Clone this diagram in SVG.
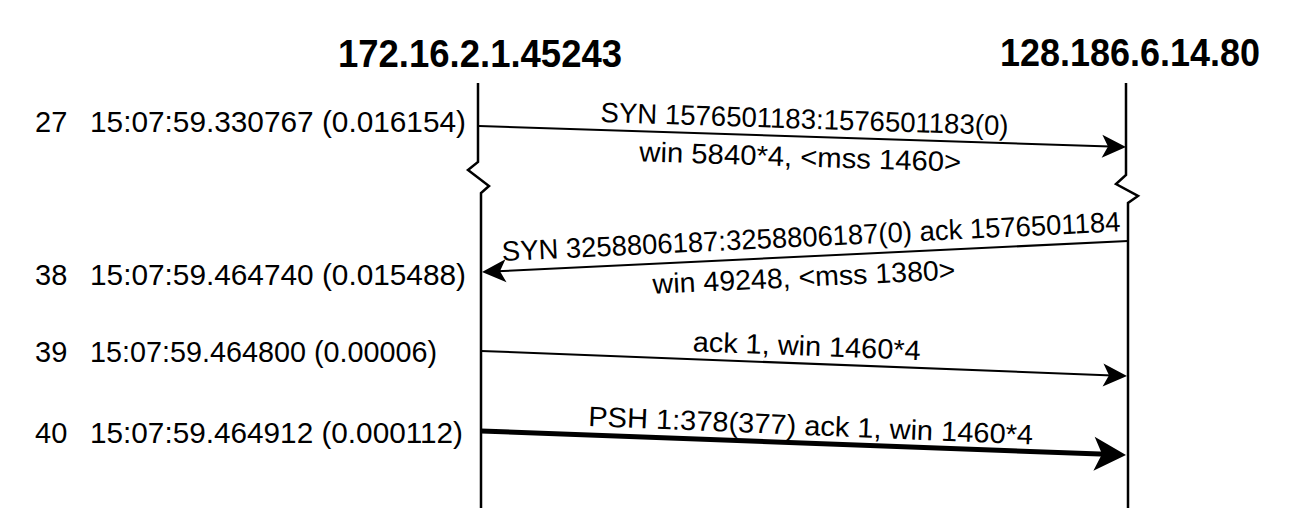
<svg xmlns="http://www.w3.org/2000/svg" width="1296" height="532" viewBox="0 0 1296 532">
<style>
text{font-family:"Liberation Sans","DejaVu Sans",sans-serif;fill:#000}
.hdr{font-weight:bold;font-size:39px}
.row{font-size:29px}
.lbl{font-size:28px;text-anchor:middle}
.life{fill:none;stroke:#000;stroke-width:2.5;stroke-linejoin:miter}
.msg{fill:none;stroke:#000;stroke-width:2}
.msg.thick{stroke-width:5}
</style>
<defs>
<marker id="ah" markerUnits="userSpaceOnUse" viewBox="-20 -14 30 28" markerWidth="30" markerHeight="28" refX="0" refY="0" orient="auto">
<path d="M8,0 L-16,-11.5 L-10,0 L-16,11.5 Z" fill="#000"/>
</marker>
<marker id="ahb" markerUnits="userSpaceOnUse" viewBox="-24 -20 40 40" markerWidth="40" markerHeight="40" refX="0" refY="0" orient="auto">
<path d="M12,0 L-20,-17 L-12,0 L-20,17 Z" fill="#000"/>
</marker>
</defs>
<rect width="1296" height="532" fill="#fff"/>
<g id="host-left">
<text class="hdr" x="338" y="67" textLength="284" lengthAdjust="spacingAndGlyphs">172.16.2.1.45243</text>
<path class="life" d="M478,83 V162 L468,170 L489,186 L481,193 V508"/>
</g>
<g id="host-right">
<text class="hdr" x="1000" y="66" textLength="260" lengthAdjust="spacingAndGlyphs">128.186.6.14.80</text>
<path class="life" d="M1126,83 V175 L1116,184 L1138,196 L1128,203 V508"/>
</g>
<g id="rows">
<text class="row" x="35" y="132">27</text>
<text class="row" x="90" y="132" textLength="376" lengthAdjust="spacingAndGlyphs">15:07:59.330767 (0.016154)</text>
<text class="row" x="35" y="285">38</text>
<text class="row" x="90" y="285" textLength="376" lengthAdjust="spacingAndGlyphs">15:07:59.464740 (0.015488)</text>
<text class="row" x="35" y="362">39</text>
<text class="row" x="90" y="362" textLength="347" lengthAdjust="spacingAndGlyphs">15:07:59.464800 (0.00006)</text>
<text class="row" x="35" y="443">40</text>
<text class="row" x="90" y="443" textLength="373" lengthAdjust="spacingAndGlyphs">15:07:59.464912 (0.000112)</text>
</g>
<g id="connectors">
<line class="msg" x1="479" y1="126" x2="1118" y2="146.74" marker-end="url(#ah)"/>
<line class="msg" x1="1128" y1="241" x2="490" y2="271.62" marker-end="url(#ah)"/>
<line class="msg" x1="481" y1="351" x2="1119" y2="375.69" marker-end="url(#ah)"/>
<line class="msg thick" x1="481" y1="431" x2="1114" y2="454.55" marker-end="url(#ahb)"/>
</g>
<g id="labels">
<g transform="translate(804,136.55) rotate(1.859)">
<text class="lbl" x="0" y="-8" textLength="408" lengthAdjust="spacingAndGlyphs">SYN 1576501183:1576501183(0)</text>
<text class="lbl" x="-3" y="30" textLength="322" lengthAdjust="spacingAndGlyphs">win 5840*4, &lt;mss 1460&gt;</text>
</g>
<g transform="translate(810,256.3) rotate(-2.747)">
<text class="lbl" x="2" y="-10" textLength="619" lengthAdjust="spacingAndGlyphs">SYN 3258806187:3258806187(0) ack 1576501184</text>
<text class="lbl" x="-7" y="30" textLength="303" lengthAdjust="spacingAndGlyphs">win 49248, &lt;mss 1380&gt;</text>
</g>
<g transform="translate(806,363.6) rotate(2.216)">
<text class="lbl" x="0" y="-8" textLength="228" lengthAdjust="spacingAndGlyphs">ack 1, win 1460*4</text>
</g>
<g transform="translate(810,443.2) rotate(2.4)">
<text class="lbl" x="0" y="-8" textLength="445" lengthAdjust="spacingAndGlyphs">PSH 1:378(377) ack 1, win 1460*4</text>
</g>
</g>
</svg>
